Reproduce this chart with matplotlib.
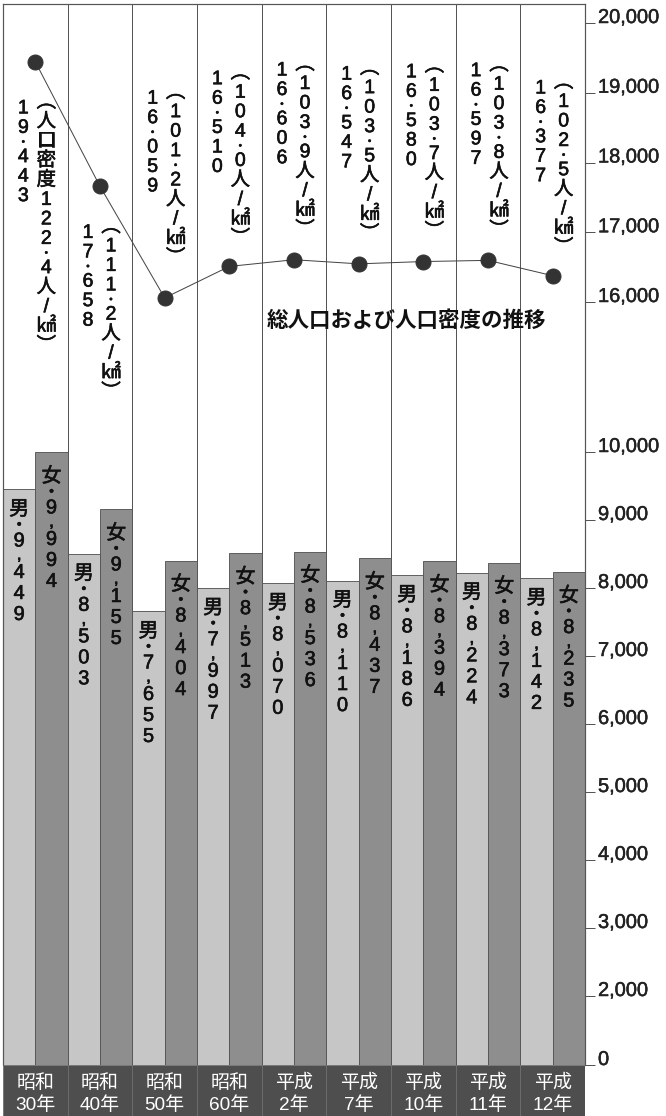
import matplotlib
matplotlib.use("Agg")
import matplotlib.pyplot as plt
import matplotlib.patheffects as pe
import numpy as np

plt.rcParams['font.family'] = ['Liberation Sans', 'Noto Sans CJK JP', 'DejaVu Sans']

# data (千人)
years = ["昭和\n30年", "昭和\n40年", "昭和\n50年", "昭和\n60年", "平成\n2年",
         "平成\n7年", "平成\n10年", "平成\n11年", "平成\n12年"]
male = [9449, 8503, 7655, 7997, 8070, 8110, 8186, 8224, 8142]
female = [9994, 9155, 8404, 8513, 8536, 8437, 8394, 8373, 8235]
total = [19443, 17658, 16059, 16510, 16606, 16547, 16580, 16597, 16377]
density = [122.4, 111.2, 101.2, 104.0, 103.9, 103.5, 103.7, 103.8, 102.5]
yticks = [0, 2000, 3000, 4000, 5000, 6000, 7000, 8000, 9000, 10000,
          16000, 17000, 18000, 19000, 20000]

# label placement: >0 below marker (top char), <0 above marker (last char), in px
label_gap = [40, 40, -40, -28, -30, -30, -30, -30, -28]

# broken axis: value -> pixels from bottom
val_pts = [-10000, 0, 2000, 10000, 16000, 20000, 30000]
pix_pts = [-680, 0, 69, 613, 763, 1042, 1739.5]

def forward(v):
    return np.interp(v, val_pts, pix_pts)

def inverse(d):
    return np.interp(d, pix_pts, val_pts)

# small punctuation gets half a slot and a smaller size
PUNCT = {'•': 9, ',': 13}
thick = [pe.withStroke(linewidth=0.6, foreground='#111111')]

def char_offsets(s, pitch):
    offs = []
    pos = 0.0
    prev = None
    for ch in s:
        w = pitch * 0.5 if ch in PUNCT else pitch
        if prev is not None:
            pos += (prev + w) / 2
        offs.append(pos)
        prev = w
    return offs

def vtext(ax, x, y, s, dx, dy, pitch, fontsize, bullet=9, **kw):
    # dy: pixels down from (x, y) to the first character center
    for ch, off in zip(s, char_offsets(s, pitch)):
        if ch == '•':
            fs = bullet
        else:
            fs = PUNCT.get(ch, fontsize)
        ax.annotate(ch, xy=(x, y), xytext=(dx, -(dy + off)), textcoords='offset points',
                    ha='center', va='center', fontsize=fs, annotation_clip=False,
                    fontweight='bold' if ch == ',' else 'normal', path_effects=thick, **kw)

W, H = 666, 1116
fig = plt.figure(figsize=(W / 72, H / 72), dpi=72)
ax = fig.add_axes([3 / W, 51 / H, 582 / W, 1061 / H])
ax.set_yscale('function', functions=(forward, inverse))

x = np.arange(len(years))
ax.bar(x - 0.25, male, width=0.5, color='#c6c6c6', edgecolor='#555555', linewidth=0.9, zorder=2)
ax.bar(x + 0.25, female, width=0.5, color='#8e8e8e', edgecolor='#555555', linewidth=0.9, zorder=2)
for i in range(len(years) - 1):
    ax.axvline(i + 0.5, color='#555555', lw=1.0, zorder=1)

ax.plot(x, total, color='#444444', lw=1.0, zorder=3)
ax.plot(x, total, 'o', color='#333333', markersize=15, zorder=4)

ax.set_xlim(-0.5, len(years) - 0.5)
ax.set_ylim(0, inverse(1061))
ax.set_yticks(yticks)
ax.set_yticklabels([f"{v:,}" for v in yticks])
ax.set_xticks([])
ax.yaxis.tick_right()
ax.tick_params(axis='y', direction='out', length=10, width=1, color='#555555',
               pad=3, labelsize=20, labelcolor='#222222')
for lab in ax.get_yticklabels():
    lab.set_verticalalignment('baseline')
    lab.set_path_effects([pe.withStroke(linewidth=0.5, foreground='#222222')])
for side in ['left', 'top', 'right']:
    ax.spines[side].set_color('#555555')
    ax.spines[side].set_linewidth(1.2)
ax.spines['bottom'].set_visible(False)

# vertical labels: total and density
pitch = 19.5
for i in range(len(years)):
    num = f"{total[i] // 1000}•{total[i] % 1000:03d}"
    dens = ("︵人口密度" if i == 0 else "︵") + f"{density[i]:.1f}".replace(".", "•") + "人/㎢︶"
    dens_len = char_offsets(dens, pitch)[-1]
    if label_gap[i] > 0:
        top = label_gap[i]
    else:
        top = label_gap[i] - dens_len
    vtext(ax, x[i], total[i], dens, 11, top, pitch, 19.5, color='#111111')
    vtext(ax, x[i], total[i], num, -12, top + 6, pitch, 19.5, color='#111111')

# bar labels
for i in range(len(years)):
    vtext(ax, x[i] - 0.25, male[i], "男•" + f"{male[i]:,}", 0, 20, 21, 20, bullet=13,
          color='#111111')
    vtext(ax, x[i] + 0.25, female[i], "女•" + f"{female[i]:,}", 0, 24, 21, 20, bullet=13,
          color='#111111')

ax.text((406 - 3) / 582, (1065 - 320) / 1061, "総人口および人口密度の推移", transform=ax.transAxes,
        ha='center', va='center', fontsize=21.5, fontweight='bold', color='#111111',
        family=['Noto Sans CJK JP'], zorder=5)

# year band
band = fig.add_axes([3 / W, 0, 582 / W, 51 / H])
band.bar(x, [1] * len(years), width=1.0, color='#4e4e4e', edgecolor='#6e6e6e', linewidth=0.8)
band.set_xlim(-0.5, len(years) - 0.5)
band.set_ylim(0, 1)
band.axis('off')
for i, lab in enumerate(years):
    era, yr = lab.split("\n")
    band.text(x[i], 0.66, era, ha='center', va='center', color='white', fontsize=19,
              family=['Noto Sans CJK JP'])
    band.text(x[i], 0.21, yr, ha='center', va='center', color='white', fontsize=19,
              family=['Liberation Sans', 'Noto Sans CJK JP'])

fig.savefig("out.png", dpi=72)
